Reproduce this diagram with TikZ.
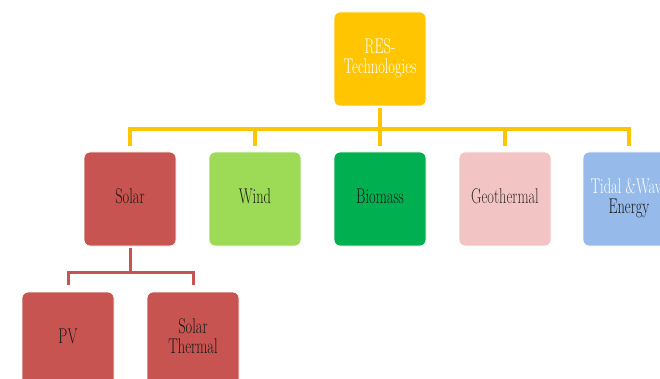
\documentclass[tikz,border=0pt]{standalone}
\usepackage{graphicx}
\definecolor{cyel}{RGB}{255,198,0}
\definecolor{cred}{RGB}{199,84,80}
\definecolor{cgreen}{RGB}{157,219,86}
\definecolor{cbio}{RGB}{0,176,80}
\definecolor{cgeo}{RGB}{242,196,196}
\definecolor{ctidal}{RGB}{150,186,234}
\definecolor{ctxt}{RGB}{25,25,25}
\definecolor{cgeotxt}{RGB}{55,45,45}
\newcommand{\lbl}[1]{\scalebox{0.96}[1.42]{\fontsize{15}{13.3}\selectfont\begin{tabular}{@{}c@{}}#1\end{tabular}}}
\begin{document}
\begin{tikzpicture}[x=1pt,y=-1pt,
 box/.style={rectangle,rounded corners=6pt,minimum width=92pt,minimum height=94pt,draw=white,line width=0.8pt,inner sep=0pt,text=ctxt},
 ybar/.style={draw=cyel,line width=4pt},
 rbar/.style={draw=cred,line width=3pt}]
\useasboundingbox (0,0) rectangle (660,379);
\clip (0,0) rectangle (660,379);
\node[box,fill=cyel,text=white] (top) at (380,59) {\lbl{RES-\\Technologies}};
\node[box,fill=cred] (solar) at (130,199) {\lbl{Solar}};
\node[box,fill=cgreen] (wind) at (255,199) {\lbl{Wind}};
\node[box,fill=cbio] (biomass) at (380,199) {\lbl{Biomass}};
\node[box,fill=cgeo,text=cgeotxt] (geo) at (505,199) {\lbl{Geothermal}};
\node[box,fill=ctidal] (tidal) at (629,199) {\lbl{\textcolor{white}{Tidal \&Wave}\\Energy}};
\node[box,fill=cred] (pv) at (68,339) {\lbl{PV}};
\node[box,fill=cred] (st) at (193,339) {\lbl{Solar\\Thermal}};
\coordinate (bus) at (380,129);
\draw[ybar,shorten <=2pt] (top.south) -- (bus);
\foreach \n in {solar,wind,biomass,geo,tidal} \draw[ybar,shorten <=6pt] (\n.north) |- (bus);
\coordinate (sbus) at (130,272);
\draw[rbar,shorten <=2pt] (solar.south) -- (sbus);
\draw[rbar,shorten <=7pt] (pv.north) |- (sbus);
\draw[rbar,shorten <=7pt] (st.north) |- (sbus);
\end{tikzpicture}
\end{document}
